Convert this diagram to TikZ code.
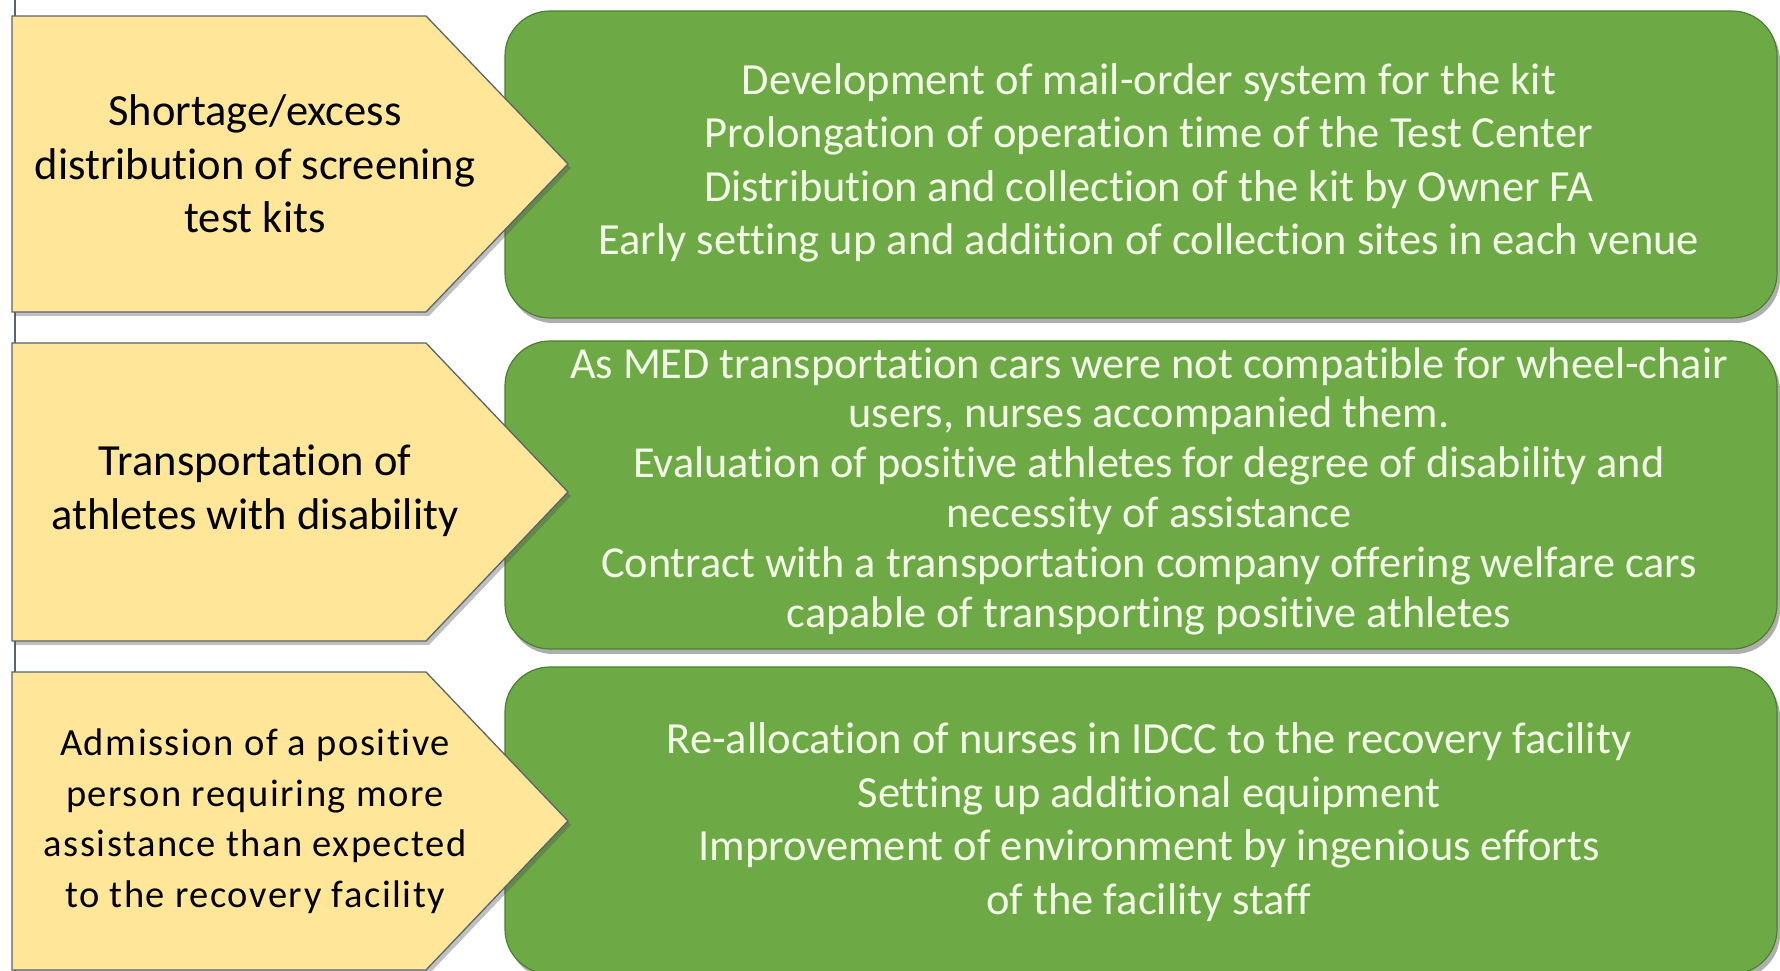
\documentclass[tikz,border=0pt]{standalone}
\usepackage{fontspec}
\setmainfont[Ligatures={NoCommon}]{Carlito}
\usetikzlibrary{shadows}
\definecolor{ygold}{HTML}{FFE699}
\definecolor{ygreen}{HTML}{6DAA45}
\definecolor{gedge}{HTML}{4E7F30}
\definecolor{gtext}{HTML}{F3FBE8}
\definecolor{yedge}{HTML}{5A6470}
\tikzset{
  greenbox/.style={draw=gedge, line width=1.2pt, fill=ygreen, rounded corners=45pt,
    drop shadow={shadow xshift=3pt, shadow yshift=-5pt, opacity=0.45, fill=black!70}},
  yellowbox/.style={draw=yedge, line width=1.3pt, fill=ygold,
    drop shadow={shadow xshift=3pt, shadow yshift=-4pt, opacity=0.35, fill=black!70}},
  gtxt/.style={text=gtext, align=center, font=\fontsize{44.5}{53.5}\selectfont},
  ytxt/.style={text=black, align=center, font=\fontsize{44.5}{53.5}\selectfont},
}
\begin{document}
\begin{tikzpicture}[x=1pt,y=1pt]
\useasboundingbox (0,0) rectangle (1780,970);
\fill[white] (0,0) rectangle (1780,970);
% left vertical line
\coordinate (vtop) at (15,972);
\coordinate (vbot) at (15,-2);
\draw[yedge, line width=1.3pt] (vtop) -- (vbot);
% green boxes
\draw[greenbox] (505,652) rectangle (1777,959);
\draw[greenbox] (505,321) rectangle (1777,629);
\draw[greenbox] (505,-4) rectangle (1777,303);
% yellow pentagons
\draw[yellowbox] (12,954) -- (426,954) -- (568,806) -- (426,658) -- (12,658) -- cycle;
\draw[yellowbox] (12,627) -- (426,627) -- (568,478) -- (426,329) -- (12,329) -- cycle;
\draw[yellowbox] (12,298) -- (426,298) -- (568,149) -- (426,0) -- (12,0) -- cycle;
% yellow texts
\node[ytxt] (y1) at (255,806) {Shortage/excess\\distribution of screening\\test kits};
\node[ytxt] (y2) at (255,479) {Transportation of\\athletes with disability};
\node[ytxt, font=\fontsize{38.5}{50.5}\selectfont\addfontfeatures{LetterSpace=4}] (y3) at (255,149) {Admission of a positive\\person requiring more\\assistance than expected\\to the recovery facility};
% green texts
\node[gtxt] (g1) at (1149,807) {Development of mail-order system for the kit\\Prolongation of operation time of the Test Center\\Distribution and collection of the kit by Owner FA\\Early setting up and addition of collection sites in each venue};
\node[gtxt, font=\fontsize{44.3}{49.8}\selectfont] (g2) at (1149,479) {As MED transportation cars were not compatible for wheel-chair\\users, nurses accompanied them.\\Evaluation of positive athletes for degree of disability and\\necessity of assistance\\Contract with a transportation company offering welfare cars\\capable of transporting positive athletes};
\node[gtxt] (g3) at (1149,148) {Re-allocation of nurses in IDCC to the recovery facility\\Setting up additional equipment\\Improvement of environment by ingenious efforts\\of the facility staff};
\end{tikzpicture}
\end{document}
